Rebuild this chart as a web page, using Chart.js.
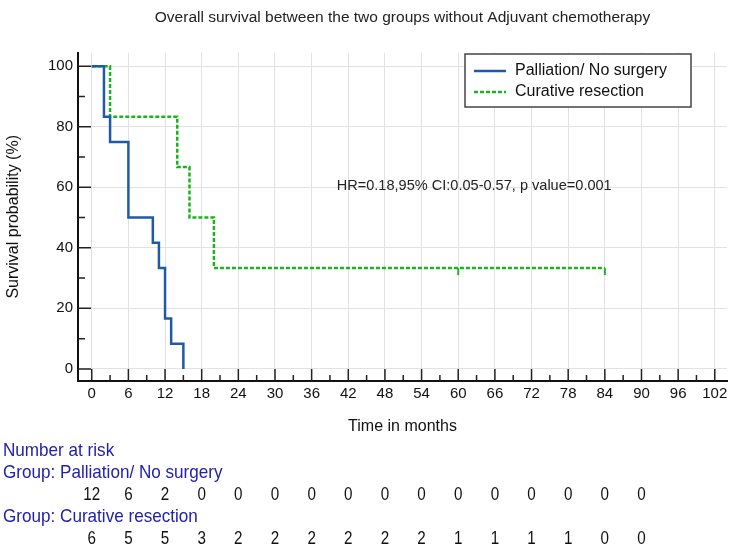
<!DOCTYPE html>
<html><head><meta charset="utf-8">
<script src="https://cdn.jsdelivr.net/npm/chart.js@4.4.1/dist/chart.umd.min.js"></script>
<style>html,body{margin:0;padding:0;background:#fff;}#wrap{width:750px;height:551px;position:relative;}</style>
</head><body><div id="wrap"><canvas id="c" width="750" height="551" style="width:750px;height:551px"></canvas></div>
<script>
// ---- data ----
const xTickMonths = [0,6,12,18,24,30,36,42,48,54,60,66,72,78,84,90,96,102];
const yTickValues = [0,20,40,60,80,100];
const palliationTimes = [0,2,3,6,10,11,12,13,15];
const palliationSurvival = [100,83.33,75,50,41.67,33.33,16.67,8.33,0];
const curativeTimes = [0,3,14,16,20,84];
const curativeSurvival = [100,83.33,66.67,50,33.33,33.33];
const curativeCensorTimes = [60,84];
const curativeCensorSurvival = [33.33,33.33];
const riskTimes = [0,6,12,18,24,30,36,42,48,54,60,66,72,78,84,90];
const palliationAtRisk = [12,6,2,0,0,0,0,0,0,0,0,0,0,0,0,0];
const curativeAtRisk = [6,5,5,3,2,2,2,2,2,2,1,1,1,1,0,0];
const groupNames = ['Palliation/ No surgery','Curative resection'];
const hrText = 'HR=0.18,95% CI:0.05-0.57, p value=0.001';

const BLUE = '#1f5aa8', GREEN = '#1eb31e', RISKBLUE = '#2222aa';
const FONT = "'Liberation Sans', Arial, sans-serif";

function censorMark(color){
  const c = document.createElement('canvas'); c.width = 4; c.height = 16;
  const g = c.getContext('2d'); g.strokeStyle = color; g.lineWidth = 2;
  g.beginPath(); g.moveTo(2,8); g.lineTo(2,15); g.stroke(); return c;
}

// condensed-looking text (horizontal squeeze)
function narrowText(ctx, text, x, y, align, sx){
  ctx.save(); ctx.translate(x, y); ctx.scale(sx, 1); ctx.textAlign = align;
  ctx.fillText(text, 0, 0); ctx.restore();
}

const kmTicks = {
  id:'kmTicks',
  beforeDatasetsDraw(chart){
    const {ctx, scales:{x,y}, chartArea:a} = chart;
    ctx.save(); ctx.strokeStyle = '#222'; ctx.lineWidth = 1.5;
    ctx.beginPath();
    for (let v = 0; v <= 102; v += 3){
      const px = x.getPixelForValue(v); const len = (v % 6 === 0) ? 12 : 6;
      ctx.moveTo(px, a.bottom); ctx.lineTo(px, a.bottom - len);
    }
    for (let v = 0; v <= 100; v += 10){
      const py = y.getPixelForValue(v); const len = (v % 20 === 0) ? 13 : 7;
      ctx.moveTo(a.left, py); ctx.lineTo(a.left + len, py);
    }
    ctx.stroke(); ctx.restore();
  },
  afterDraw(chart){
    const {ctx, scales:{x,y}} = chart;
    ctx.save();
    // HR annotation
    ctx.fillStyle = '#222'; ctx.font = '15px ' + FONT; ctx.textBaseline = 'middle';
    narrowText(ctx, hrText, x.getPixelForValue(40.1), y.getPixelForValue(60.5), 'left', 0.97);
    // legend
    const lx = 465, ly = 54, lw = 226, lh = 53;
    ctx.fillStyle = '#fff'; ctx.fillRect(lx, ly, lw, lh);
    ctx.strokeStyle = '#444'; ctx.lineWidth = 1.5; ctx.strokeRect(lx, ly, lw, lh);
    const ds = chart.data.datasets;
    [0,1].forEach((i) => {
      const yy = ly + 17 + i * 21;
      ctx.strokeStyle = ds[i].borderColor; ctx.lineWidth = 2.5;
      ctx.setLineDash(ds[i].borderDash || []);
      ctx.beginPath(); ctx.moveTo(lx + 9, yy); ctx.lineTo(lx + 41, yy); ctx.stroke();
      ctx.setLineDash([]);
      ctx.fillStyle = '#111'; ctx.font = '16px ' + FONT; ctx.textBaseline = 'middle'; ctx.textAlign = 'left';
      ctx.fillText(ds[i].label, lx + 50, yy);
    });
    // number at risk
    ctx.textBaseline = 'middle';
    ctx.fillStyle = RISKBLUE; ctx.font = '19px ' + FONT;
    narrowText(ctx, 'Number at risk', 3, 451, 'left', 0.9);
    narrowText(ctx, 'Group: ' + groupNames[0], 3, 473, 'left', 0.9);
    narrowText(ctx, 'Group: ' + groupNames[1], 3, 517, 'left', 0.9);
    ctx.fillStyle = '#111';
    riskTimes.forEach((t, i) => {
      const px = x.getPixelForValue(t);
      narrowText(ctx, String(palliationAtRisk[i]), px, 495, 'center', 0.8);
      narrowText(ctx, String(curativeAtRisk[i]), px, 539, 'center', 0.8);
    });
    ctx.restore();
  }
};

new Chart(document.getElementById('c'), {
  type: 'line',
  data: {
    datasets: [
      { label: groupNames[0], data: palliationTimes.map((t,i)=>({x:t, y:palliationSurvival[i]})),
        borderColor: BLUE, borderWidth: 2.5, stepped: true, pointRadius: 0, fill: false },
      { label: groupNames[1], data: curativeTimes.map((t,i)=>({x:t, y:curativeSurvival[i]})),
        borderColor: GREEN, borderWidth: 2.5, borderDash: [4,2], stepped: true, pointRadius: 0, fill: false },
      { label: 'censored', data: curativeCensorTimes.map((t,i)=>({x:t, y:curativeCensorSurvival[i]})),
        showLine: false, pointStyle: censorMark(GREEN), pointRadius: 8, borderColor: GREEN }
    ]
  },
  options: {
    responsive: false, animation: false, devicePixelRatio: 1,
    layout: { padding: { left: 0, right: 23, top: 0, bottom: 0 } },
    plugins: {
      legend: { display: false }, tooltip: { enabled: false },
      title: { display: true, fullSize: false, text: 'Overall survival between the two groups without Adjuvant chemotherapy',
        color: '#222', font: { family: FONT, size: 15.5, weight: 'normal' }, padding: { top: 8, bottom: 26 } }
    },
    scales: {
      x: { type: 'linear', min: -2.25, max: 104,
        afterBuildTicks: s => { s.ticks = xTickMonths.map(v => ({ value: v })); },
        afterFit: s => { s.height = 170; },
        grid: { color: '#e2e2e2', lineWidth: 1, drawTicks: false },
        border: { display: true, color: '#111', width: 2 },
        ticks: { color: '#111', padding: 4, maxRotation: 0, autoSkip: false, font: { family: FONT, size: 15 } },
        title: { display: true, text: 'Time in months', color: '#111', font: { family: FONT, size: 16 }, padding: { top: 0, bottom: 115 } } },
      y: { type: 'linear', min: -4, max: 104.5,
        afterBuildTicks: s => { s.ticks = yTickValues.map(v => ({ value: v })); },
        afterFit: s => { s.width = 78; },
        grid: { color: '#e2e2e2', lineWidth: 1, drawTicks: false },
        border: { display: true, color: '#111', width: 2 },
        ticks: { color: '#111', padding: 5, font: { family: FONT, size: 15 } },
        title: { display: true, text: 'Survival probability (%)', color: '#111', font: { family: FONT, size: 16 }, padding: { top: 4, bottom: 0 } } }
    }
  },
  plugins: [kmTicks]
});
</script></body></html>
